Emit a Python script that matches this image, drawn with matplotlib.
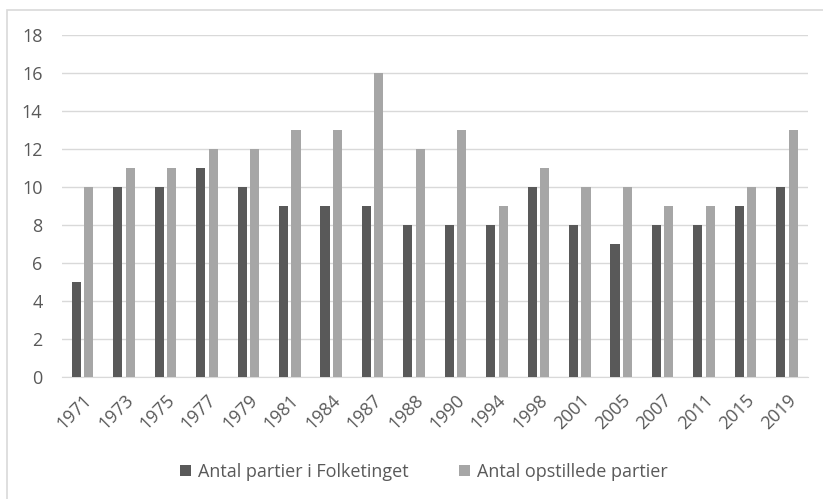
import matplotlib.pyplot as plt
import numpy as np
from matplotlib.patches import Rectangle

years = ["1971", "1973", "1975", "1977", "1979", "1981", "1984", "1987", "1988",
         "1990", "1994", "1998", "2001", "2005", "2007", "2011", "2015", "2019"]
folketinget = [5, 10, 10, 11, 10, 9, 9, 9, 8, 8, 8, 10, 8, 7, 8, 8, 9, 10]
opstillede = [10, 11, 11, 12, 12, 13, 13, 16, 12, 13, 9, 11, 10, 10, 9, 9, 10, 13]

plt.rcParams["font.family"] = ["Open Sans", "DejaVu Sans"]
text_col = "#595959"

fig = plt.figure(figsize=(8.23, 4.99), dpi=100)
ax = fig.add_axes([0.0753, 0.2445, 0.906, 0.686])

x = np.arange(len(years))
w = 0.22
ax.bar(x - 0.15, folketinget, width=w, color="#595959", label="Antal partier i Folketinget", zorder=3)
ax.bar(x + 0.15, opstillede, width=w, color="#a6a6a6", label="Antal opstillede partier", zorder=3)

ax.set_xlim(-0.5, len(years) - 0.5)
ax.set_ylim(0, 18)
ax.set_yticks(range(0, 19, 2))
ax.set_xticks(x)
ax.set_xticklabels(years, rotation=45, ha="right", rotation_mode="anchor")
ax.tick_params(axis="both", length=0, labelsize=13, colors=text_col)
ax.tick_params(axis="y", pad=14)
ax.tick_params(axis="x", pad=10)
ax.grid(axis="y", color="#d9d9d9", linewidth=1, zorder=0)
for s in ["top", "right", "left"]:
    ax.spines[s].set_visible(False)
ax.spines["bottom"].set_color("#d9d9d9")

fig.legend(loc="center", bbox_to_anchor=(0.515, 0.054), ncol=2, frameon=False,
           fontsize=13, labelcolor=text_col, handlelength=0.6, handleheight=0.6,
           columnspacing=2.8, handletextpad=0.4)

# outer chart border, cropped at right and bottom like the source image
fig.add_artist(Rectangle((7 / 823, -0.1), 1.2, (499 - 10) / 499 + 0.1,
                         transform=fig.transFigure, fill=False,
                         edgecolor="#d9d9d9", linewidth=1.2))

fig.savefig("out.png", dpi=100)
